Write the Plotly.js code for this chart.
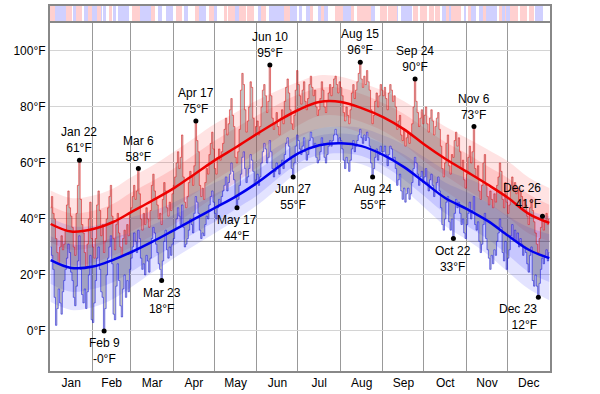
<!DOCTYPE html>
<html><head><meta charset="utf-8">
<script src="https://cdn.plot.ly/plotly-3.0.1.min.js"></script>
<style>html,body{margin:0;padding:0;background:#fff}#chart{width:600px;height:394px}</style>
</head><body><div id="chart"></div>
<script>
const YEAR = 2013;

// Daily observed highs (°F), Jan 1 .. Dec 31
const dailyHigh = [
44,48,42,40,33,28,24,30,34,29,31,36,45,50,44,41,37,30,27,42,52,61,47,38,35,28,23,31,40,46,33,
30,26,33,45,50,43,34,38,28,32,40,44,48,52,41,33,29,38,42,35,30,27,33,36,31,38,34,42,
44,48,52,47,50,58,49,40,36,42,38,44,40,37,43,52,56,50,47,45,40,42,38,47,53,50,44,41,46,43,49,
52,55,60,64,58,62,70,55,46,44,48,53,57,55,52,59,75,68,64,52,48,51,47,53,58,56,63,67,71,65,
58,56,62,65,61,64,67,72,76,70,74,79,83,77,73,62,60,64,72,86,92,88,79,71,75,80,89,87,76,70,73,
75,70,73,80,86,88,84,78,82,95,84,76,72,74,78,73,70,76,79,74,82,87,90,85,79,74,72,77,86,93,
88,84,81,86,89,82,79,83,88,91,87,84,86,80,77,79,83,89,86,80,78,82,85,88,84,87,90,91,88,85,89,
87,84,78,75,80,77,74,79,85,88,83,86,89,92,96,90,87,91,88,93,89,86,79,74,77,82,85,80,84,88,86,
84,87,83,79,85,88,86,82,84,80,72,75,77,70,68,72,66,69,71,67,70,74,80,90,82,78,73,76,79,74,
77,80,74,71,76,79,75,70,73,76,78,72,66,58,55,60,67,70,59,56,63,62,68,71,66,69,64,58,61,54,51,
56,62,66,60,64,73,58,55,59,50,47,52,60,63,52,48,45,50,47,44,49,46,52,55,60,57,47,44,53,46,
42,45,52,55,50,53,49,51,46,50,48,44,47,45,41,38,44,47,43,39,35,31,28,33,37,41,36,39,42,38,40
];
// Daily observed lows (°F)
const dailyLow = [
30,27,22,12,2,8,15,10,6,14,18,22,26,31,28,21,18,12,9,16,25,34,22,13,10,15,8,14,20,27,4,
3,10,18,26,30,22,14,12,0,8,20,26,30,34,24,6,4,16,24,18,9,5,15,20,12,18,14,22,
26,30,35,32,28,36,33,26,22,24,20,27,25,21,26,33,37,35,31,28,24,22,18,25,32,36,29,26,30,27,31,
33,36,40,44,41,38,45,37,30,31,33,36,40,38,35,42,48,46,42,36,33,35,34,38,41,40,45,48,50,46,
42,40,44,47,45,48,50,52,55,50,53,56,60,57,54,48,44,47,52,56,62,64,58,53,55,58,63,61,57,52,54,
56,52,55,60,64,67,65,60,62,68,64,58,55,57,60,58,56,59,61,58,63,67,69,66,62,58,55,60,66,70,
68,65,63,66,69,64,61,63,68,71,69,66,67,62,60,61,64,69,67,62,60,63,66,68,66,68,70,72,70,67,69,
68,65,61,58,62,60,57,61,65,68,64,66,68,70,72,69,67,70,68,71,69,66,60,55,58,62,65,61,63,66,64,
64,66,63,59,63,66,65,61,62,58,52,54,56,50,47,51,46,49,51,47,49,53,58,62,60,56,52,55,57,53,
55,58,53,50,54,56,52,48,50,53,55,50,44,38,36,40,46,48,39,36,40,33,42,47,44,46,42,38,40,35,33,
38,42,46,40,43,48,38,36,39,32,28,31,38,42,33,29,26,22,27,24,29,27,32,35,40,37,28,25,32,22,
26,29,34,38,33,36,32,35,30,33,31,27,30,28,24,21,27,30,18,16,20,16,12,17,22,26,24,27,29,25,28
];

// Normal bands, sampled at these day-of-year indices
const bandDays = [0,15,31,46,59,74,90,105,120,135,151,166,181,196,212,227,243,258,273,288,304,319,334,349,364];
const avgHigh = [38.2,35.5,36.4,39,42.5,46.5,51,56,61,65.5,70.5,75,79,81.8,81.8,79.6,76.3,72,66.5,61.5,56.8,52.3,47.5,41.8,38.6];
const high90 = [50.2,47.5,48.4,51,55,59,64,69,74,78,82.5,86,89,91.3,90.8,88.6,85.8,82,77.5,73,68.8,64.8,60.5,54.8,51.1];
const high75 = [44.7,42,42.9,45.5,49.5,53.5,58,63,68,72.5,77,81,84.5,86.8,86.8,84.6,81.3,77.5,72.5,67.5,63.3,58.8,54.5,48.8,45.1];
const high25 = [31.7,29,29.9,32.5,35.5,39.5,44,49,54,58.5,64,69,73.5,76.8,76.8,74.6,71.3,66.5,60.5,55.5,50.3,45.8,40.5,34.8,32.1];
const high10 = [26.2,23.5,24.4,27,30,34,38,43,48,53,58.5,64,69,72.3,72.8,70.6,66.8,62,55.5,50,44.8,39.8,34.5,28.8,26.1];
const avgLow = [25.3,22.5,23,25.5,28.2,31.8,36,40,44,48,53,58.5,63.5,66.3,67,66,62.8,58.5,53,47.5,43.5,39.3,34,29,26];
const low90 = [40.3,37.5,37.5,39.5,40.7,42.8,46,49.5,53,56.5,61,66,70,72.3,73,72.5,69.8,66.5,62,57.5,54.5,51.3,47,43,41];
const low75 = [33.8,31,31,33.5,35.2,37.8,41.5,45,49,52.5,57.5,62.5,67,69.8,70.5,69.5,66.8,63,58,53,49.5,45.8,41,37,34.5];
const low25 = [16.8,14,15,17.5,21.2,25.8,30.5,35,39,43.5,48.5,54.5,60,62.8,63.5,62.5,58.8,54,48,42,37.5,32.8,27,21,17.5];
const low10 = [10.3,7.5,8.5,11.5,15.7,20.8,26,30.5,35,39.5,45,51,57,60.3,61,59.5,55.8,50.5,44,37.5,32.5,27.3,21,15,11];

// Top strip: runs of days (1 = warm / pink, -1 = cool / blue, 0 = neutral)
const stripCodes = [1,-1,1,0,-1,1,0,-1,1,-1, 1,-1,0,-1,0,1,0,-1,0,-1, 0,1,-1,1,0,-1,0,-1,0,1, 0,-1,0,1,-1,0,1,-1,0,1,
  0,1,-1,1,0,1,0,-1,1,0, -1,1,-1,0,-1,0,-1,1,0,-1, 1,-1,0,1,-1,1,0,1,-1,0, 1,0,1,-1,0,-1,0,1,0,1,
  0,1,0,1,0,-1,1,-1,1,0, -1,0,1,-1,0,-1,1,-1,0,1, -1,1,-1,1,0,1,0,1,0,-1,0];
const stripLengths = [4,8,4,1,2,4,2,3,3,3, 3,1,1,2,2,2,1,2,2,8, 2,6,8,3,2,3,3,5,2,4, 2,3,5,3,5,2,4,2,5,2,
  1,5,3,5,1,5,3,2,4,2, 11,4,5,2,2,3,3,2,4,2, 2,3,5,6,6,2,2,10,3,4, 5,1,6,1,2,8,1,4,1,5,
  2,3,1,4,1,3,2,2,7,2, 2,1,2,4,2,3,2,8,2,2, 2,1,3,6,1,5,2,3,1,6,5];

// Labelled extremes
const annLabels = ['Jan 22','Feb 9','Mar 6','Mar 23','Apr 17','May 17','Jun 10','Jun 27','Aug 15','Aug 24','Sep 24','Oct 22','Nov 6','Dec 23','Dec 26'];
const annDates = ['2013-01-22','2013-02-09','2013-03-06','2013-03-23','2013-04-17','2013-05-17','2013-06-10','2013-06-27','2013-08-15','2013-08-24','2013-09-24','2013-10-22','2013-11-06','2013-12-23','2013-12-26'];
const annTemps = [61,0,58,18,75,44,95,55,96,55,90,33,73,12,41];
const annTempText = ['61','-0','58','18','75','44','95','55','96','55','90','33','73','12','41'];
const annIsHigh = [1,0,1,0,1,0,1,0,1,0,1,0,1,0,1];

const yTicks = [0,20,40,60,80,100];
const FREEZING = 32;

function dayToDate(d){
  const t = Date.UTC(YEAR,0,1) + d*86400000 + 43200000;
  return new Date(t).toISOString().slice(0,19).replace('T',' ');
}
const dailyX = dailyHigh.map((_,i)=>dayToDate(i));
const bandX = bandDays.map(dayToDate);
const annX = annDates.map(d=>d+' 12:00:00');

const stripZ = [];
stripCodes.forEach((c,i)=>{ for(let k=0;k<stripLengths[i];k++) stripZ.push(c); });
const stripX = stripZ.map((_,i)=>dayToDate(i));

const noHover = {hoverinfo:'skip', showlegend:false};
function band(lo, hi, color){
  return [
    Object.assign({x:bandX, y:lo, mode:'lines', line:{width:0, shape:'spline', smoothing:1}}, noHover),
    Object.assign({x:bandX, y:hi, mode:'lines', line:{width:0, shape:'spline', smoothing:1}, fill:'tonexty', fillcolor:color}, noHover)
  ];
}

const traces = [].concat(
  band(high10, high90, 'rgba(255,0,0,0.11)'),
  band(high25, high75, 'rgba(255,0,0,0.12)'),
  band(low10, low90, 'rgba(0,0,255,0.11)'),
  band(low25, low75, 'rgba(0,0,255,0.12)'),
  [
    Object.assign({x:dailyX, y:dailyLow, mode:'lines', line:{color:'rgba(0,0,230,0.5)', width:1, shape:'hvh'}}, noHover),
    Object.assign({x:dailyX, y:dailyHigh, mode:'lines', line:{color:'rgba(230,0,0,0.5)', width:1, shape:'hvh'}, fill:'tonexty', fillcolor:'rgba(110,110,110,0.42)'}, noHover),
    Object.assign({x:bandX, y:avgHigh, mode:'lines', line:{color:'#ee0000', width:2.5, shape:'spline', smoothing:1}}, noHover),
    Object.assign({x:bandX, y:avgLow, mode:'lines', line:{color:'#0000ee', width:2.5, shape:'spline', smoothing:1}}, noHover),
    Object.assign({x:annX, y:annTemps, mode:'markers', marker:{color:'#000', size:5}}, noHover),
    Object.assign({type:'heatmap', x:stripX, y:[0], z:[stripZ], xaxis:'x2', yaxis:'y2', zmin:-1, zmax:1, showscale:false,
      colorscale:[[0,'#d0d0ff'],[0.34,'#d0d0ff'],[0.34,'#ffffff'],[0.66,'#ffffff'],[0.66,'#ffd0d0'],[1,'#ffd0d0']]}, noHover)
  ]
);

const annotations = annLabels.map((lab,i)=>{
  const right = annDates[i] >= '2013-12-15';
  return {
    x: annX[i], y: annTemps[i], xref:'x', yref:'y', showarrow:false,
    text: lab + '<br>' + annTempText[i] + '°F',
    yanchor: annIsHigh[i] ? 'bottom' : 'top',
    yshift: annIsHigh[i] ? 3 : -3,
    xanchor: right ? 'right' : 'center',
    align: right ? 'right' : 'center',
    xshift: right ? 1 : 0,
    font:{size:12, color:'#000'}
  };
});

const split = 350/365;
const layout = {
  width:600, height:394,
  margin:{l:50, r:50, t:6, b:23, pad:0},
  paper_bgcolor:'#fff', plot_bgcolor:'#fff',
  showlegend:false,
  font:{family:'Liberation Sans, Arial, sans-serif', size:12, color:'#000'},
  xaxis:{type:'date', range:['2013-01-01','2014-01-01'], dtick:'M1', tick0:'2013-01-01', tickformat:'%b',
    ticklabelmode:'period', showgrid:true, gridcolor:'#999', gridwidth:1, showline:true, mirror:true,
    linecolor:'#888', linewidth:2, ticks:'', zeroline:false, anchor:'y'},
  xaxis2:{type:'date', matches:'x', anchor:'y2', showticklabels:false, showgrid:false, showline:true, mirror:true,
    linecolor:'#888', linewidth:2, ticks:'', zeroline:false},
  yaxis:{domain:[0, split], range:[-14.3, 110.7], tickmode:'array', tickvals:yTicks, ticktext:yTicks.map(v=>v+'°F'),
    showgrid:true, gridcolor:'#d4d4d4',
    showline:true, mirror:true, linecolor:'#888', linewidth:2, zeroline:false, ticks:''},
  yaxis2:{domain:[split, 1], range:[-0.5, 0.5], showticklabels:false, showgrid:false, showline:true, mirror:true,
    linecolor:'#888', linewidth:2, zeroline:false, ticks:''},
  shapes:[{type:'line', xref:'paper', x0:0, x1:1, yref:'y', y0:FREEZING, y1:FREEZING, line:{color:'#999', width:1}, layer:'below'}],
  annotations: annotations
};

Plotly.newPlot('chart', traces, layout, {staticPlot:true, displayModeBar:false});
</script>
</body></html>
